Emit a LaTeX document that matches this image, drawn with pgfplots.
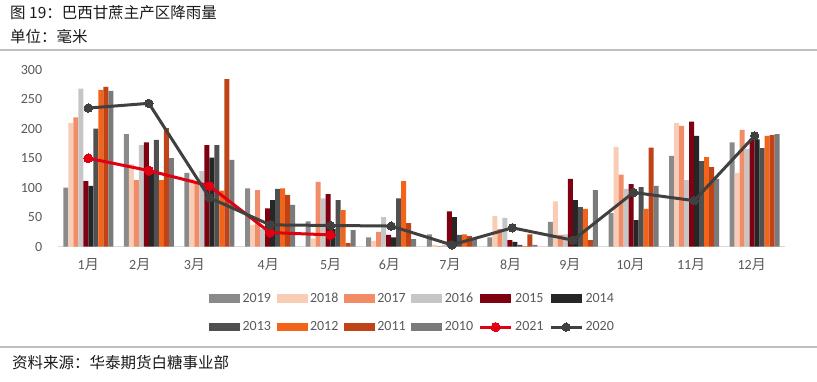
\documentclass[border=0pt]{standalone}
\usepackage{fontspec}
\setmainfont{Carlito}
\newfontfamily\cjk{Noto Sans CJK SC}
\usepackage{pgfplots}
\pgfplotsset{compat=1.18}
\definecolor{c2019}{HTML}{8A8A8A}
\definecolor{c2018}{HTML}{F9CDB5}
\definecolor{c2017}{HTML}{F08D68}
\definecolor{c2016}{HTML}{C6C6C6}
\definecolor{c2015}{HTML}{7F0010}
\definecolor{c2014}{HTML}{262626}
\definecolor{c2013}{HTML}{505050}
\definecolor{c2012}{HTML}{F26419}
\definecolor{c2011}{HTML}{BF4316}
\definecolor{c2010}{HTML}{7A7A7A}
\definecolor{c2021}{HTML}{E00012}
\definecolor{c2020}{HTML}{404040}
\definecolor{tickgray}{HTML}{595959}
\definecolor{rulegray}{HTML}{BFBFBF}
\pgfplotsset{
  barleg/.style={legend image code/.code={\fill[##1] (0pt,-4.25pt) rectangle (31pt,4.25pt);}},
  lineleg/.style={legend image code/.code={\draw[mark repeat=2,mark phase=2,##1] plot coordinates {(0pt,0pt) (15.5pt,0pt) (31pt,0pt)};}},
  mybar/.style={ybar, bar width=0.0825, bar shift=#1, draw=none, barleg},
}
\begin{document}
\begin{tikzpicture}
\useasboundingbox (0pt,0pt) rectangle (817pt,381pt);
\node[anchor=west, inner sep=0pt, font=\cjk\fontsize{15.5}{17}\selectfont, text=black!90] at (10pt,368.5pt) {图 19：巴西甘蔗主产区降雨量};
\node[anchor=west, inner sep=0pt, font=\cjk\fontsize{15.5}{17}\selectfont, text=black!90] at (10pt,344.5pt) {单位：毫米};
\draw[rulegray, line width=2pt] (0pt,331pt) -- (817pt,331pt);
\draw[rulegray, line width=2pt] (0pt,34pt) -- (817pt,34pt);
\node[anchor=west, inner sep=0pt, font=\cjk\fontsize{15.5}{17}\selectfont, text=black!90] at (12pt,18.5pt) {资料来源：华泰期货白糖事业部};
\begin{axis}[
  at={(58pt,134.3pt)}, anchor=south west,
  scale only axis, width=727pt, height=177pt,
  xmin=-0.5, xmax=11.5, ymin=0, ymax=300,
  clip=false,
  axis x line*=bottom, axis y line*=left,
  y axis line style={draw=none},
  x axis line style={draw=black!15, line width=1.3pt, -},
  ytick={0,50,100,150,200,250,300},
  xtick={0,0.85,1.75,2.97,4,4.97,5.97,6.97,7.95,8.95,9.95,10.95},
  xticklabels={1\cjk{月},2\cjk{月},3\cjk{月},4\cjk{月},5\cjk{月},6\cjk{月},7\cjk{月},8\cjk{月},9\cjk{月},10\cjk{月},11\cjk{月},12\cjk{月}},
  major tick length=0pt,
  tick style={draw=none},
  /pgf/number format/assume math mode=true,
  ticklabel style={font=\fontsize{14}{16}\selectfont, text=tickgray},
  yticklabel style={xshift=-12.3pt},
  xticklabel style={yshift=-8.5pt},
  legend columns=6,
  legend style={draw=none, fill=none, at={(0.488,-0.372)}, anchor=center,
    font=\fontsize{14}{16}\selectfont, text=tickgray,
    nodes={inner sep=2.5pt}, row sep=13pt,
    /tikz/every even column/.append style={column sep=3pt}},
  legend cell align=left,
]
\addplot[mybar=-0.37125, fill=c2019] coordinates {(0,100) (1,191) (2,125) (3,99) (4,43) (5,16) (6,21) (7,16) (8,42) (9,57) (10,154) (11,177)};
\addlegendentry{2019}
\addplot[mybar=-0.28875, fill=c2018] coordinates {(0,210) (1,140) (2,115) (3,37) (4,14) (5,10) (6,3) (7,52) (8,77) (9,169) (10,210) (11,125)};
\addlegendentry{2018}
\addplot[mybar=-0.20625, fill=c2017] coordinates {(0,219) (1,113) (2,109) (3,96) (4,110) (5,25) (6,1) (7,30) (8,20) (9,122) (10,205) (11,198)};
\addlegendentry{2017}
\addplot[mybar=-0.12375, fill=c2016] coordinates {(0,268) (1,172) (2,128) (3,30) (4,82) (5,50) (6,3) (7,49) (8,21) (9,98) (10,113) (11,166)};
\addlegendentry{2016}
\addplot[mybar=-0.04125, fill=c2015] coordinates {(0,111) (1,177) (2,172) (3,65) (4,89) (5,20) (6,60) (7,11) (8,115) (9,106) (10,212) (11,183)};
\addlegendentry{2015}
\addplot[mybar=0.04125, fill=c2014] coordinates {(0,103) (1,125) (2,151) (3,79) (4,30) (5,16) (6,50) (7,8) (8,79) (9,45) (10,188) (11,182)};
\addlegendentry{2014}
\addplot[mybar=0.12375, fill=c2013] coordinates {(0,200) (1,181) (2,172) (3,98) (4,79) (5,82) (6,20) (7,3) (8,67) (9,101) (10,145) (11,167)};
\addlegendentry{2013}
\addplot[mybar=0.20625, fill=c2012] coordinates {(0,266) (1,113) (2,95) (3,99) (4,62) (5,111) (6,21) (7,1) (8,64) (9,64) (10,152) (11,188)};
\addlegendentry{2012}
\addplot[mybar=0.28875, fill=c2011] coordinates {(0,271) (1,201) (2,284) (3,88) (4,6) (5,40) (6,18) (7,21) (8,11) (9,168) (10,135) (11,189)};
\addlegendentry{2011}
\addplot[mybar=0.37125, fill=c2010] coordinates {(0,264) (1,150) (2,147) (3,71) (4,28) (5,13) (6,13) (7,3) (8,96) (9,103) (10,115) (11,191)};
\addlegendentry{2010}
\addplot[sharp plot, color=c2021, line width=3pt, mark=*, mark size=4.5pt, mark options={fill=c2021, draw=c2021, line width=0pt}, lineleg] coordinates {(0,150) (1,129) (2,103) (3,24) (4,20)};
\addlegendentry{2021}
\addplot[sharp plot, color=c2020, line width=3pt, mark=*, mark size=4.2pt, mark options={fill=c2020, draw=c2020, line width=0pt}, lineleg] coordinates {(0,235) (1,243) (2,83) (3,37) (4,36) (5,35) (6,3) (7,32) (8,11) (9,92) (10,78) (11,188)};
\addlegendentry{2020}
\end{axis}
\end{tikzpicture}
\end{document}
